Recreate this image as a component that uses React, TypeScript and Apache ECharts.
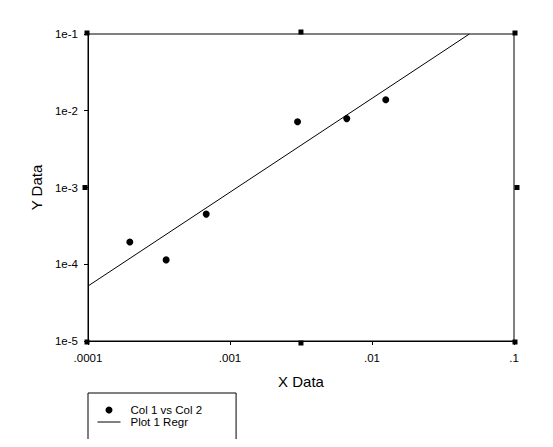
import React, { useEffect, useRef } from "react";
import * as echarts from "echarts";

const xTickLabels = [".0001", ".001", ".01", ".1"];
const yTickLabels = ["1e-5", "1e-4", "1e-3", "1e-2", "1e-1"];

const xValues = [0.000197, 0.000355, 0.00068, 0.00299, 0.00664, 0.0125];
const yValues = [0.000195, 0.000114, 0.00045, 0.0072, 0.0079, 0.0139];

const regrX = [0.0001, 0.0485];
const regrY = [0.000052, 0.1];

const frameX = [0.0001, 0.0001, 0.0001, 0.00316, 0.1, 0.1, 0.1, 0.00316];
const frameY = [0.00001, 0.001, 0.1, 0.1, 0.1, 0.001, 0.00001, 0.00001];
const frameOffsets = [
  [-1, 1], [-3, 0], [-1, -1], [0, -2], [1, -1], [3, 0], [1, 1], [0, 2],
];

const FONT = "'Liberation Sans', Arial, sans-serif";

export default function App() {
  const ref = useRef<HTMLDivElement>(null);
  useEffect(() => {
    if (!ref.current) return;
    const chart = echarts.init(ref.current, null, { renderer: "svg" });
    const logIdx = (v: number, base: number) => Math.round(Math.log10(v)) - base;
    chart.setOption({
      animation: false,
      backgroundColor: "#fff",
      textStyle: { fontFamily: FONT, color: "#000" },
      grid: {
        left: 88,
        top: 34,
        width: 426,
        height: 307,
        show: true,
        borderColor: "#000",
        borderWidth: 1,
        backgroundColor: "transparent",
      },
      xAxis: {
        type: "log",
        logBase: 10,
        min: 0.0001,
        max: 0.1,
        name: "X Data",
        nameLocation: "middle",
        nameGap: 33,
        nameTextStyle: { fontFamily: FONT, fontSize: 15, color: "#000" },
        axisLine: { lineStyle: { color: "#000", width: 1 } },
        axisTick: { show: true, inside: false, length: 4, lineStyle: { color: "#000" } },
        minorTick: { show: false },
        splitLine: { show: false },
        axisLabel: {
          fontFamily: FONT,
          fontSize: 11.5,
          color: "#000",
          margin: 11,
          formatter: (v: number) => xTickLabels[logIdx(v, -4)] ?? "",
        },
      },
      yAxis: {
        type: "log",
        logBase: 10,
        min: 0.00001,
        max: 0.1,
        name: "Y Data",
        nameLocation: "middle",
        nameGap: 44,
        nameTextStyle: { fontFamily: FONT, fontSize: 15, color: "#000" },
        axisLine: { lineStyle: { color: "#000", width: 1 } },
        axisTick: { show: true, inside: false, length: 4, lineStyle: { color: "#000" } },
        minorTick: { show: false },
        splitLine: { show: false },
        axisLabel: {
          fontFamily: FONT,
          fontSize: 11.5,
          color: "#000",
          margin: 10,
          formatter: (v: number) => yTickLabels[logIdx(v, -5)] ?? "",
        },
      },
      legend: {
        orient: "vertical",
        left: 88,
        top: 393,
        padding: [11, 34, 14, 9],
        itemGap: 0,
        itemWidth: 23,
        itemHeight: 7,
        borderColor: "#000",
        borderWidth: 1,
        borderRadius: 0,
        backgroundColor: "#fff",
        data: [
          { name: "Col 1 vs Col 2", icon: "circle", itemStyle: { color: "#000", opacity: 1 } },
          { name: "Plot 1 Regr", itemStyle: { opacity: 0 }, lineStyle: { color: "#000", width: 1 } },
        ],
        textStyle: { fontFamily: FONT, fontSize: 11.5, color: "#000", padding: [0, 0, 0, 5] },
      },
      series: [
        {
          name: "Col 1 vs Col 2",
          type: "scatter",
          symbol: "circle",
          symbolSize: 7,
          itemStyle: { color: "#000", opacity: 1 },
          data: xValues.map((x, i) => [x, yValues[i]]),
          z: 5,
        },
        {
          name: "Plot 1 Regr",
          type: "line",
          symbol: "none",
          itemStyle: { color: "#000" },
          lineStyle: { color: "#000", width: 1 },
          data: regrX.map((x, i) => [x, regrY[i]]),
          z: 4,
        },
        {
          name: "frame",
          type: "scatter",
          symbol: "rect",
          symbolSize: 5,
          clip: false,
          silent: true,
          itemStyle: { color: "#000", opacity: 1 },
          data: frameX.map((x, i) => ({
            value: [x, frameY[i]],
            symbolOffset: frameOffsets[i],
          })),
          z: 6,
        },
      ],
    });
    return () => chart.dispose();
  }, []);
  return <div ref={ref} style={{ width: 553, height: 447, margin: -8 }} />;
}
